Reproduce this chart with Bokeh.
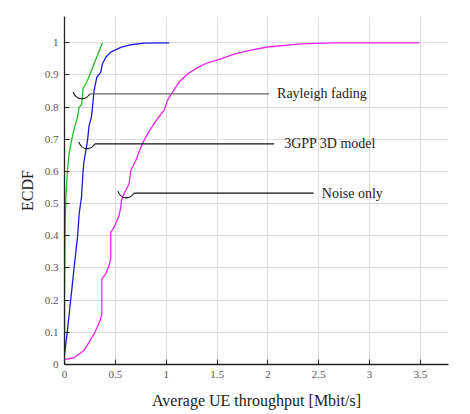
import math
from bokeh.plotting import figure
from bokeh.models import (Range1d, FixedTicker, Label)
from bokeh.embed import file_html
from bokeh.resources import INLINE

# ---------------- data ----------------
rayleigh_x = [0.0, 0.0, 0.006, 0.013, 0.029, 0.045, 0.069, 0.095, 0.128, 0.144, 0.167, 0.176, 0.183, 0.226, 0.291, 0.373]
rayleigh_y = [0.0, 0.2, 0.417, 0.52, 0.603, 0.655, 0.696, 0.733, 0.769, 0.80, 0.808, 0.83, 0.857, 0.883, 0.935, 1.0]

gpp_x = [0.0, 0.029, 0.095, 0.128, 0.144, 0.167, 0.183, 0.193, 0.216, 0.226, 0.242, 0.265, 0.275, 0.291,
         0.318, 0.357, 0.373, 0.406, 0.455, 0.553, 0.652, 0.783, 1.03]
gpp_y = [0.03, 0.106, 0.302, 0.396, 0.468, 0.52, 0.603, 0.634, 0.675, 0.696, 0.743, 0.769, 0.80, 0.852,
         0.893, 0.909, 0.935, 0.955, 0.971, 0.986, 0.994, 0.999, 1.0]

noise_x = [0.0, 0.095, 0.193, 0.291, 0.35, 0.367, 0.367, 0.406, 0.439, 0.455, 0.455, 0.488, 0.537, 0.553,
           0.560, 0.586, 0.635, 0.652, 0.701, 0.750, 0.799, 0.849, 0.914, 0.979, 1.013, 1.062, 1.127,
           1.209, 1.308, 1.406, 1.537, 1.668, 1.799, 1.996, 2.324, 2.651, 3.49]
noise_y = [0.015, 0.021, 0.044, 0.095, 0.137, 0.158, 0.266, 0.282, 0.308, 0.329, 0.411, 0.427, 0.463, 0.489,
           0.51, 0.531, 0.562, 0.603, 0.634, 0.675, 0.707, 0.733, 0.764, 0.790, 0.821, 0.847, 0.878,
           0.903, 0.923, 0.938, 0.950, 0.965, 0.975, 0.987, 0.997, 1.0, 1.0]

x_ticks = [0.0, 0.5, 1.0, 1.5, 2.0, 2.5, 3.0, 3.5]
y_ticks = [0.0, 0.1, 0.2, 0.3, 0.4, 0.5, 0.6, 0.7, 0.8, 0.9, 1.0]

ann_labels = ["Rayleigh fading", "3GPP 3D model", "Noise only"]
ann_y = [0.841, 0.686, 0.533]
ann_bracket_x0 = [0.085, 0.14, 0.525]
ann_bracket_x1 = [0.249, 0.30, 0.685]
ann_line_end = [2.01, 2.06, 2.45]
ann_text_x = [2.09, 2.16, 2.53]
ann_line_color = ["#666666", "#111111", "#111111"]

# ---------------- figure ----------------
FONT = "Liberation Serif"
X_END, Y_END = 3.776, 1.0818
p = figure(width=470, height=414, output_backend="svg", toolbar_location=None,
           x_range=Range1d(0.0, X_END), y_range=Range1d(0.0, Y_END),
           min_border_left=64, min_border_right=22, min_border_top=16, min_border_bottom=50)
p.outline_line_color = None

# built-in grid
p.xgrid.grid_line_color = "#dddddd"
p.ygrid.grid_line_color = "#dddddd"
p.xgrid.ticker = FixedTicker(ticks=x_ticks)
p.ygrid.ticker = FixedTicker(ticks=y_ticks)

# curves
p.line(rayleigh_x, rayleigh_y, line_color="#22bb22", line_width=1.3)
p.line(gpp_x, gpp_y, line_color="#1a1ae0", line_width=1.3)
p.line(noise_x, noise_y, line_color="#ee22ee", line_width=1.3)

for ax in (p.xaxis[0], p.yaxis[0]):
    ax.axis_line_color = "#222222"
    ax.axis_line_width = 1.3
    ax.major_tick_in = 5
    ax.major_tick_out = 0
    ax.major_tick_line_color = "#222222"
    ax.minor_tick_in = 0
    ax.minor_tick_out = 0
    ax.major_label_text_font = FONT
    ax.major_label_text_font_size = "11px"
    ax.major_label_text_color = "#555555"
    ax.axis_label_text_font = FONT
    ax.axis_label_text_font_size = "16px"
    ax.axis_label_text_font_style = "normal"
    ax.axis_label_text_color = "#222222"

p.xaxis.ticker = FixedTicker(ticks=x_ticks)
p.yaxis.ticker = FixedTicker(ticks=y_ticks)
p.xaxis.major_label_standoff = 6
p.yaxis.major_label_standoff = 6
p.xaxis.axis_label = "Average UE throughput [Mbit/s]"
p.xaxis.axis_label_standoff = 11
p.yaxis.axis_label = "ECDF"
p.yaxis.axis_label_standoff = 6

# annotations: bracket + leader line + text
for lab, y, bx0, bx1, lend, tx, lc in zip(ann_labels, ann_y, ann_bracket_x0, ann_bracket_x1,
                                            ann_line_end, ann_text_x, ann_line_color):
    w = bx1 - bx0
    p.bezier(x0=[bx0], y0=[y + 0.006], x1=[bx1], y1=[y],
             cx0=[bx0 + 0.2 * w], cy0=[y - 0.022], cx1=[bx1 - 0.25 * w], cy1=[y - 0.02],
             line_color="#111111", line_width=1.1)
    p.segment(x0=[bx1], y0=[y], x1=[lend], y1=[y], line_color=lc, line_width=1.3)
    p.add_layout(Label(x=tx, y=y, text=lab, text_font=FONT, text_font_size="14px",
                       text_baseline="middle", text_align="left", text_color="#222222"))

open("out.html", "w").write(file_html(p, INLINE))
